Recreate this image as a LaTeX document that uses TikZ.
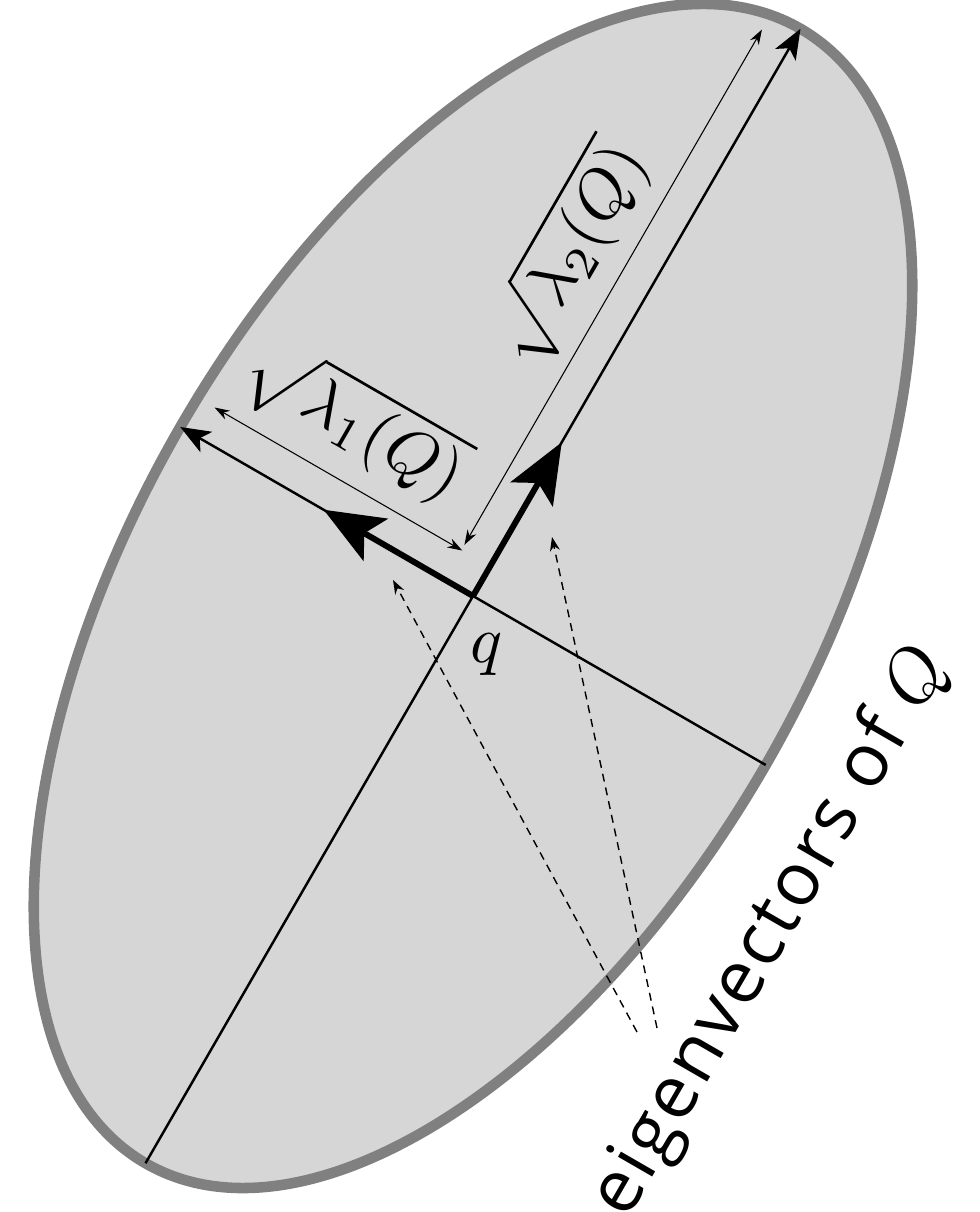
\documentclass[tikz,border=0pt]{standalone}
\usepackage{fontspec}
\newfontfamily\eigfont{Open Sans}[LetterSpace=4]
\usetikzlibrary{arrows.meta, calc}

\begin{document}
\begin{tikzpicture}[
    rim/.style={draw=black!50, fill=black!16, line width=6pt},
    axisline/.style={line width=1.4pt},
    axisarr/.style={-{Stealth[length=0.6cm, width=0.47cm, inset=0.15cm]}, line width=1.4pt},
    eigarr/.style={-{Stealth[length=1.2cm, width=0.97cm, inset=0.26cm]}, line width=3.4pt},
    dimarr/.style={{Stealth[length=0.3cm, width=0.2cm]}-{Stealth[length=0.3cm, width=0.2cm]}, line width=0.6pt},
    pointer/.style={-{Stealth[length=0.28cm, width=0.2cm]}, line width=0.8pt, dash pattern=on 0.16cm off 0.12cm},
    mathlbl/.style={scale=3.8, inner sep=0pt}
]
    \useasboundingbox (0,0) rectangle (19.6,24.24);

    \begin{scope}[shift={(9.46,12.32)}, rotate=60]
        % ellipse and axes
        \draw[rim] (0,0) ellipse [x radius=13.1, y radius=6.76];
        \coordinate (q) at (0,0);
        \coordinate (majtop) at (13.1,0);
        \coordinate (majbot) at (-13.1,0);
        \coordinate (minleft) at (0,6.76);
        \coordinate (minright) at (0,-6.76);
        \coordinate (eigone) at (0,3.45);
        \coordinate (eigtwo) at (3.55,0);
        % dimension ends
        \coordinate (dimonea) at (0.68,0.64);
        \coordinate (dimoneb) at (0.68,6.36);
        \coordinate (dimtwoa) at (0.8,0.66);
        \coordinate (dimtwob) at (12.7,0.66);

        \draw[axisline] (majbot) -- (q);
        \draw[axisline] (minright) -- (q);
        \draw[axisarr] (q) -- (majtop);
        \draw[axisarr] (q) -- (minleft);
        \draw[eigarr] (q) -- (eigtwo);
        \draw[eigarr] (q) -- (eigone);

        \draw[dimarr] (dimonea) -- (dimoneb);
        \draw[dimarr] (dimtwoa) -- (dimtwob);

        \node[mathlbl, rotate=-30] (lamone) at (1.84,3.8) {$\sqrt{\lambda_1(Q)}$};
        \node[mathlbl, rotate=60] (lamtwo) at (6.88,1.76) {$\sqrt{\lambda_2(Q)}$};
    \end{scope}

    \node[mathlbl] (qlbl) at (9.74,11.14) {$q$};

    % label and pointers
    \node[font=\eigfont, scale=4.2, rotate=60, inner sep=0pt] (eigvec) at (15.44,5.6) {eigenvectors of $Q$};
    \coordinate (ptrone) at (12.74,3.6);
    \coordinate (ptrtwo) at (13.14,3.68);
    \coordinate (tgtone) at (7.86,12.64);
    \coordinate (tgttwo) at (11.04,13.5);
    \draw[pointer] (ptrone) -- (tgtone);
    \draw[pointer] (ptrtwo) -- (tgttwo);
\end{tikzpicture}
\end{document}
